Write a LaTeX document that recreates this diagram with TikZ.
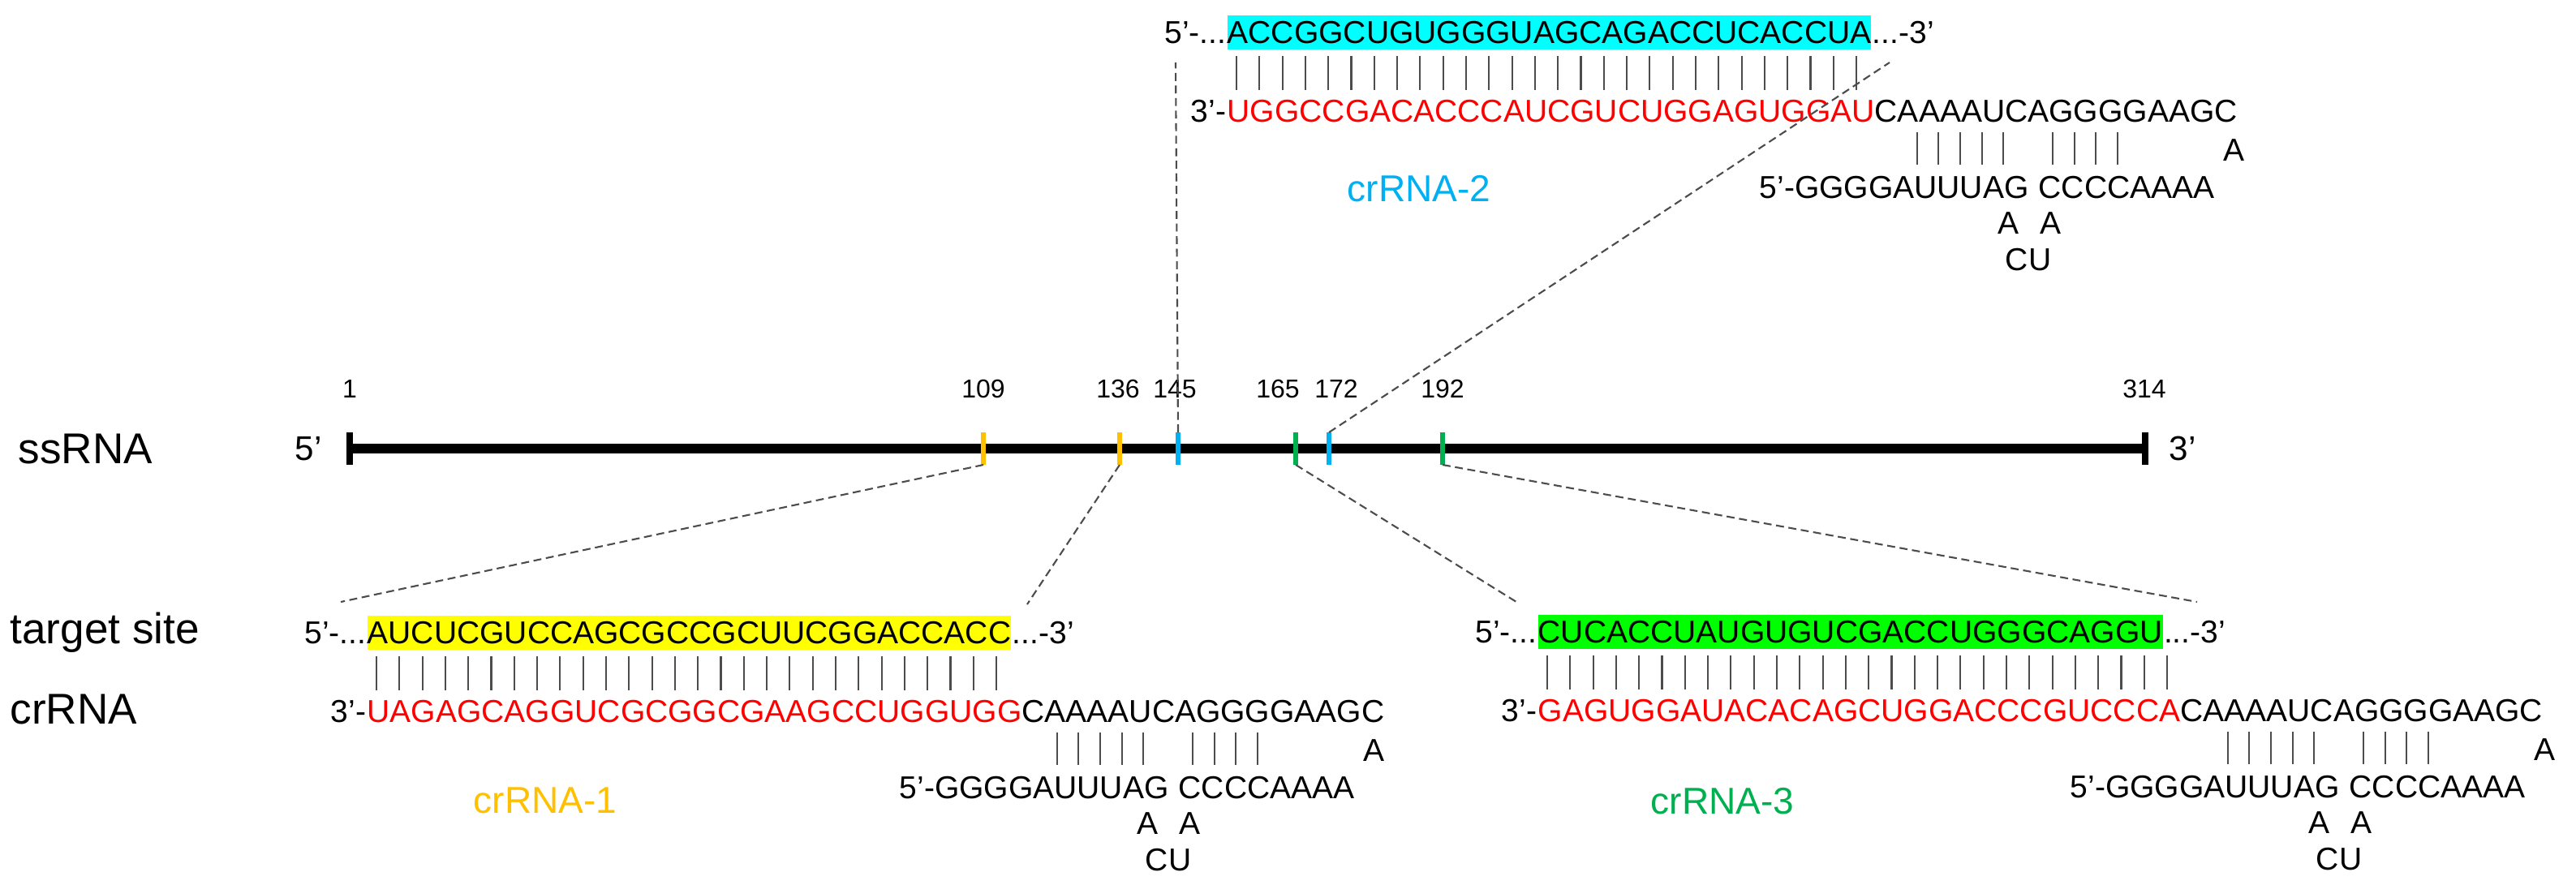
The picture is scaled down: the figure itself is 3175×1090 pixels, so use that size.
\documentclass[tikz,border=0pt]{standalone}
\usepackage{fontspec}
\setmainfont{Liberation Sans}
\definecolor{cOr}{HTML}{FFC000}
\definecolor{cBl}{HTML}{00B0F0}
\definecolor{cGr}{HTML}{00B050}
\definecolor{cYe}{HTML}{FFFF00}
\definecolor{cCy}{HTML}{00FFFF}
\definecolor{cLi}{HTML}{00FF00}
\begin{document}
\begin{tikzpicture}[x=0.01cm,y=-0.01cm,
 seq/.style={font=\fontsize{11.1}{13}\selectfont,inner sep=0pt},
 lab/.style={font=\fontsize{15.1}{18}\selectfont,inner sep=0pt},
 end/.style={font=\fontsize{12}{14}\selectfont,inner sep=0pt},
 cr/.style={font=\fontsize{13.1}{16}\selectfont,inner sep=0pt},
 num/.style={font=\fontsize{9.1}{11}\selectfont,inner sep=0pt,anchor=base},
 bar/.style={line width=0.6pt,black!70},
 mk/.style={line width=1.7pt},
 dsh/.style={line width=0.6pt,black!70,dash pattern=on 2.8pt off 1.6pt}]
\useasboundingbox (0,0) rectangle (3175,1090);
\newcommand\blk[9]{%
 \node[seq,anchor=base east] (#1f) at (#2,#3) {5'-...};
 \node[seq,anchor=base west,fill=#5,text height=0.34cm,text depth=0.08cm] (#1t) at (#2,#3) {#4};
 \node[seq,anchor=base west] (#1e) at (#1t.base east) {...-3'};
 \foreach \i in {0,...,27}{\draw[bar] ({#2+12+28.3*\i},{#3+16}) -- ({#2+12+28.3*\i},{#3+58});}
 \node[seq,anchor=base east] (#1p) at (#2,#3+97) {3'- };
 \node[seq,anchor=base west] (#1c) at (#2,#3+97) {\textcolor{red}{#6}CAAAAUCAGGGGAAGC};
 \foreach \d in {851,877,904,931,957,1018,1045,1071,1098}{\draw[bar] ({#2+\d},{#3+110}) -- ({#2+\d},{#3+150});}
 \node[seq,anchor=base west] (#1s) at (#2+656,#3+191) {5’-GGGGAUUUAG};
 \node[seq,anchor=base west] (#1r) at (#2+1000,#3+191) {CCCCAAAA};
 \node[seq] (#1a) at (#2+1241,#3+132) {A};
 \node[seq] (#1b) at (#2+963,#3+222) {A};
 \node[seq] (#1d) at (#2+1015,#3+222) {A};
 \node[seq] (#1u) at (#2+988,#3+267) {CU};
 \node[cr,text=#8] (#1l) at #9 {#7};
}
% main line
\node[lab,anchor=west] (ss) at (22,553) {ssRNA};
\node[end] (five) at (380,553) {5'};
\node[end] (three) at (2690,553) {3'};
\coordinate (L) at (431,553);
\coordinate (R) at (2644,553);
\draw[line width=3.4pt] (L) -- (R);
\draw[line width=2.3pt] (431,533) -- (431,573);
\draw[line width=2.3pt] (2644,533) -- (2644,573);
\foreach \x/\c/\n in {1212/cOr/a,1380/cOr/b,1452/cBl/c,1597/cGr/d,1638/cBl/e,1778/cGr/f}{
 \coordinate (m\n t) at (\x,533); \coordinate (m\n b) at (\x,573);
 \draw[mk,\c] (m\n t) -- (m\n b);}
\foreach \x/\t in {431/1,1212/109,1378/136,1448/145,1575/165,1647/172,1778/192,2643/314}
 \node[num] (n\t) at (\x,490) {\t};
% blocks
\blk{A}{452}{793}{AUCUCGUCCAGCGCCGCUUCGGACCACC}{cYe}{UAGAGCAGGUCGCGGCGAAGCCUGGUGG}{crRNA-1}{cOr}{(672,987)}
\blk{B}{1512}{53}{ACCGGCUGUGGGUAGCAGACCUCACCUA}{cCy}{UGGCCGACACCCAUCGUCUGGAGUGGAU}{crRNA-2}{cBl}{(1749,233)}
\blk{C}{1895}{792}{CUCACCUAUGUGUCGACCUGGGCAGGU}{cLi}{GAGUGGAUACACAGCUGGACCCGUCCCA}{crRNA-3}{cGr}{(2123,988)}
\node[lab,anchor=base west] (ts) at (12,793) {target site};
\node[lab,anchor=base west] (cl) at (12,892) {crRNA};
% dashed connectors
\coordinate (A1) at (420,742); \coordinate (A2) at (1266,745);
\coordinate (B1) at (1449,77); \coordinate (B2) at (2329,77);
\coordinate (C1) at (1869,742); \coordinate (C2) at (2708,742);
\draw[dsh] (mab) -- (A1);
\draw[dsh] (mbb) -- (A2);
\draw[dsh] (mct) -- (B1);
\draw[dsh] (met) -- (B2);
\draw[dsh] (mdb) -- (C1);
\draw[dsh] (mfb) -- (C2);
\end{tikzpicture}
\end{document}
